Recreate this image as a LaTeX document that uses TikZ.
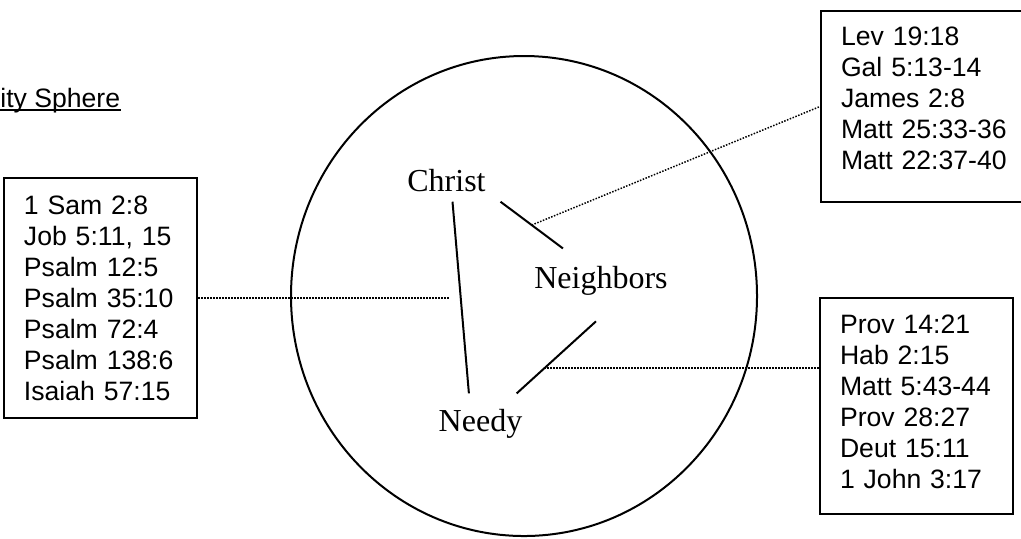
\documentclass[tikz,border=0pt]{standalone}
\usepackage{fontspec}
\setmainfont{Liberation Serif}
\newfontfamily\refsans{Liberation Sans}
\usetikzlibrary{calc,shapes.geometric}
\tikzset{refbox/.style={draw,line width=1pt,anchor=north west,align=left,inner xsep=10pt,inner ysep=2pt,
   font=\refsans\fontsize{13.3}{15.5}\selectfont},
 lbl/.style={anchor=base,inner sep=0pt,font=\fontsize{16}{19}\selectfont},
 wire/.style={line width=1pt},refline/.style={line width=.75pt,dash pattern=on .75pt off .75pt}}

\begin{document}
\begin{tikzpicture}[x=.5pt,y=-.5pt]
\useasboundingbox (0,0) rectangle (1021,538);\clip (0,0) rectangle (1021,538);
\node[anchor=base west,inner sep=0pt,font=\refsans\fontsize{13.3}{15.5}\selectfont] (title) at (0,107) {ity Sphere};
\draw[line width=1pt] ($(title.base west)+(0,3)$)--($(title.base east)+(0,3)$);
\node[ellipse,draw,line width=1pt,minimum width=233pt,minimum height=240pt,inner sep=0pt] (sphere) at (524,296) {};
% the three in the sphere
\node[lbl] (christ) at (446.5,191) {Christ};
\node[lbl] (neigh) at (601,288) {Neighbors};
\node[lbl] (needy) at (480.5,431) {Needy};
\draw[wire] ($(christ.south)+(6,10)$) -- coordinate[pos=.5] (cn) ($(needy.north)+(-11.6,-15)$);
\draw[wire] ($(christ.south east)+(14.5,10)$) -- coordinate[pos=.5] (cb) ($(neigh.north west)+(29,-17)$);
\draw[wire] ($(needy.north east)+(-6,-15)$) -- coordinate[pos=.35] (nb) ($(neigh.south)+(-5,26)$);
% verses
\node[refbox,text width=76.5pt,minimum height=120pt] (leftbox) at (3,177)
 {1 Sam 2:8\\Job 5:11, 15\\Psalm 12:5\\Psalm 35:10\\Psalm 72:4\\Psalm 138:6\\Isaiah 57:15};
\node[refbox,text width=85pt,minimum height=95.5pt] (topbox) at (820,10)
 {Lev 19:18\\Gal 5:13-14\\James 2:8\\Matt 25:33-36\\Matt 22:37-40\\[-7.5pt]\mbox{}};
\node[refbox,text width=76.5pt,minimum height=108pt] (botbox) at (819,297)
 {Prov 14:21\\Hab 2:15\\Matt 5:43-44\\Prov 28:27\\Deut 15:11\\1 John 3:17\\[-11.5pt]\mbox{}};
\draw[refline] (leftbox.east) -- ($(leftbox.east -| cn)+(-11,0)$);
\draw[refline] (cb) -- (topbox.west);
\draw[refline] (nb) -- (nb -| botbox.west);
\end{tikzpicture}
\end{document}
